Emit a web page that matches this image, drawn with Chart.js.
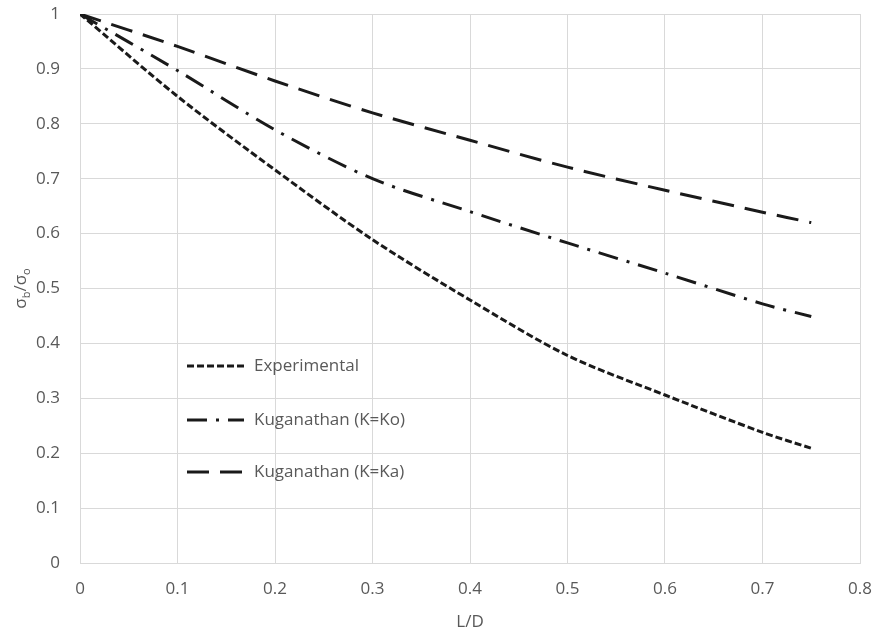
<!DOCTYPE html>
<html>
<head>
<meta charset="utf-8">
<script src="https://cdn.jsdelivr.net/npm/chart.js@4.4.1/dist/chart.umd.min.js"></script>
<style>
  html, body { margin: 0; padding: 0; background: #ffffff; }
  #wrap { width: 876px; height: 634px; position: relative; }
</style>
</head>
<body>
<div id="wrap"><canvas id="c" width="876" height="634"></canvas></div>
<script>
// L/D positions and normalised base stress for each curve
const ldValues = [0, 0.1, 0.2, 0.3, 0.4, 0.5, 0.6, 0.7, 0.75];
const experimental = [1, 0.850, 0.716, 0.589, 0.479, 0.378, 0.306, 0.238, 0.209];
const kuganathanKo = [1, 0.897, 0.789, 0.700, 0.640, 0.583, 0.528, 0.472, 0.449];
const kuganathanKa = [1, 0.941, 0.878, 0.820, 0.770, 0.721, 0.679, 0.639, 0.620];
const seriesNames = ['Experimental', 'Kuganathan (K=Ko)', 'Kuganathan (K=Ka)'];
const xTitle = 'L/D';

const FONT = '"Open Sans", "Liberation Sans", sans-serif';
const TEXT = '#595959';
const GRID = '#d9d9d9';
const FS = 17;

const pts = arr => ldValues.map((x, i) => ({ x: x, y: arr[i] }));

const dashes = [
  [7, 3],
  [20, 9, 3, 9],
  [22, 11]
];

const datasets = [experimental, kuganathanKo, kuganathanKa].map((arr, i) => ({
  label: seriesNames[i],
  data: pts(arr),
  borderColor: '#1a1a1a',
  borderWidth: 3,
  borderDash: dashes[i],
  pointRadius: 0,
  fill: false,
  tension: 0.3
}));

// Legend drawn inside the plot area, plus the y-axis title with subscripts
const overlay = {
  id: 'overlay',
  afterDraw(chart) {
    const ctx = chart.ctx;
    const area = chart.chartArea;
    ctx.save();
    // legend
    const lx = area.left + 107;
    const rows = [area.top + 352, area.top + 406, area.top + 458];
    chart.data.datasets.forEach((ds, i) => {
      const y = rows[i];
      ctx.strokeStyle = ds.borderColor;
      ctx.lineWidth = 3;
      ctx.setLineDash(ds.borderDash);
      ctx.beginPath();
      ctx.moveTo(lx, y);
      ctx.lineTo(lx + 57, y);
      ctx.stroke();
      ctx.setLineDash([]);
      ctx.fillStyle = TEXT;
      ctx.font = FS + 'px ' + FONT;
      ctx.textAlign = 'left';
      ctx.textBaseline = 'middle';
      ctx.fillText(ds.label, lx + 67, y);
    });
    // y-axis title: sigma_b / sigma_o
    ctx.translate(21, (area.top + area.bottom) / 2);
    ctx.rotate(-Math.PI / 2);
    ctx.fillStyle = TEXT;
    ctx.textBaseline = 'alphabetic';
    const parts = [
      ['σ', FS, 0], ['b', 11, 4], ['/σ', FS, 0], ['o', 11, 4]
    ];
    let total = 0;
    parts.forEach(p => { ctx.font = p[1] + 'px ' + FONT; total += ctx.measureText(p[0]).width; });
    let x = -total / 2;
    parts.forEach(p => {
      ctx.font = p[1] + 'px ' + FONT;
      ctx.fillText(p[0], x, 5 + p[2]);
      x += ctx.measureText(p[0]).width;
    });
    ctx.restore();
  }
};

const fmt = v => String(Number(Number(v).toFixed(1)));
const noPad = s => { s.paddingTop = 0; s.paddingBottom = 0; s.paddingLeft = 0; s.paddingRight = 0; };

new Chart(document.getElementById('c'), {
  type: 'line',
  data: { datasets: datasets },
  plugins: [overlay],
  options: {
    responsive: false,
    animation: false,
    devicePixelRatio: 1,
    layout: { padding: { top: 14, right: 16, left: 0, bottom: 0 } },
    plugins: { legend: { display: false }, tooltip: { enabled: false } },
    scales: {
      x: {
        type: 'linear',
        min: 0, max: 0.8,
        ticks: { stepSize: 0.1, color: TEXT, font: { family: FONT, size: FS }, padding: 16, callback: fmt, maxRotation: 0 },
        grid: { color: GRID, lineWidth: 1, drawTicks: false },
        border: { color: GRID },
        title: { display: true, text: xTitle, color: TEXT, font: { family: FONT, size: FS }, padding: { top: 4, bottom: 2 } },
        afterFit(scale) { scale.height = 71; noPad(scale); }
      },
      y: {
        type: 'linear',
        min: 0, max: 1,
        ticks: { stepSize: 0.1, color: TEXT, font: { family: FONT, size: FS }, padding: 20, callback: fmt },
        grid: { color: GRID, lineWidth: 1, drawTicks: false },
        border: { color: GRID },
        afterFit(scale) { scale.width = 80; noPad(scale); }
      }
    }
  }
});
</script>
</body>
</html>
